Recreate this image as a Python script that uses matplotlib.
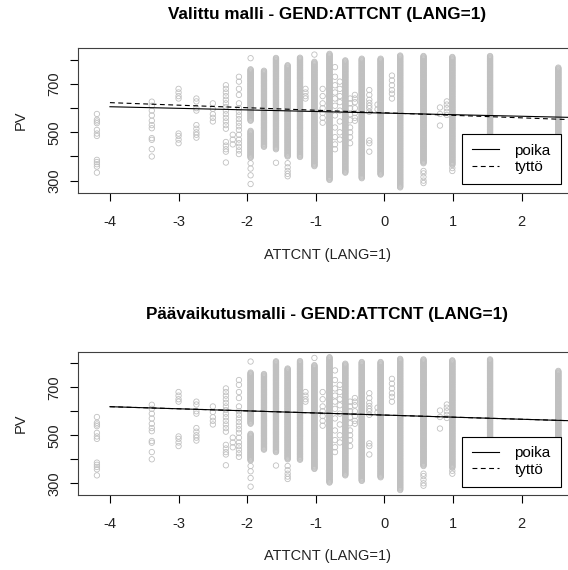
import numpy as np
import matplotlib
matplotlib.use("Agg")
import matplotlib.pyplot as plt

plt.rcParams['font.family'] = ['Liberation Sans', 'DejaVu Sans']
plt.rcParams['lines.scale_dashes'] = False

# === DATA ===
# ATTCNT levels that have a dense band of PV scores (lo, hi)
dense_x = [-1.95, -1.95, -1.755, -1.58, -1.41, -1.23, -1.02, -0.80, -0.57,
           -0.33, -0.055, 0.23, 0.57, 0.99, 1.54, 2.535]
dense_lo = [548, 395, 440, 430, 400, 398, 360, 303, 333,
            310, 325, 272, 372, 365, 318, 312]
dense_hi = [763, 507, 755, 808, 778, 810, 792, 826, 800,
            805, 805, 818, 818, 812, 818, 770]

# single students at the sparse ATTCNT levels
sparse_x = [-4.19, -3.39, -3.0, -2.74, -2.50, -2.31, -2.21, -2.12,
            -1.95, -1.58, -1.41, -1.15, -1.02, -0.90, -0.72, -0.65,
            -0.50, -0.43, -0.22, -0.10, 0.11, 0.57, 0.81, 0.91, 0.99]
sparse_pv = [
    [576, 552, 545, 538, 510, 495, 485, 386, 377, 368, 358, 333],
    [627, 610, 590, 570, 548, 530, 517, 476, 469, 430, 400],
    [680, 665, 650, 640, 495, 485, 470, 455],
    [640, 628, 600, 590, 530, 515, 500, 490, 478],
    [620, 597, 575, 560, 545],
    [695, 680, 665, 650, 635, 620, 605, 590, 575, 560, 545, 530, 515,
     460, 445, 430, 420, 375],
    [490, 470, 450],
    [730, 710, 680, 655, 620, 600, 585, 570, 555, 540, 525, 510, 490,
     470, 455, 440, 425, 410],
    [807, 372, 350, 322, 286],
    [374],
    [372, 355, 340, 328, 318],
    [680, 665, 650, 640],
    [822],
    [680, 650, 620, 600, 580, 560, 540],
    [770, 730, 695, 665, 640, 610, 570, 520, 480, 450, 430],
    [710, 680, 650, 625, 590, 545, 500, 470],
    [640, 620, 600, 575, 550, 520, 500, 480, 455],
    [655, 640, 625, 600, 580, 560, 548],
    [675, 655, 635, 622, 610, 600, 585, 466, 455, 420],
    [615, 595],
    [735, 715, 695, 675, 660, 640],
    [340, 330, 315, 300, 290],
    [603, 576, 528],
    [628, 615, 600, 585, 572],
    [352, 340],
]

# fitted PV lines by gender
line_x = [-4, 3]
valittu_poika = [606, 560]
valittu_tytto = [623, 549.5]
paavaikutus_poika = [619, 558]
paavaikutus_tytto = [619, 558]

titles = ["Valittu malli - GEND:ATTCNT (LANG=1)",
          "Päävaikutusmalli - GEND:ATTCNT (LANG=1)"]
xlab = "ATTCNT (LANG=1)"
ylab = "PV"
legend_labels = ["poika", "tyttö"]

# expand the dense bands into individual points
pts_x, pts_y = [], []
for x, lo, hi in zip(dense_x, dense_lo, dense_hi):
    ys = np.arange(lo, hi + 0.1, 3.0)
    pts_x.extend([x] * len(ys))
    pts_y.extend(ys)
for x, vals in zip(sparse_x, sparse_pv):
    pts_x.extend([x] * len(vals))
    pts_y.extend(vals)

W, H = 568, 570
fig = plt.figure(figsize=(W / 100, H / 100), dpi=100)

# panel boxes in pixels: (left, top, right, bottom)
panels = [(77.7, 48.3, 576.5, 192.7), (77.7, 351.7, 576.5, 495.3)]
legend_bottom = [184, 486.7]
title_y = [15, 315]
xlab_y = [255, 556]
lines = [(valittu_poika, valittu_tytto), (paavaikutus_poika, paavaikutus_tytto)]

for i, (l, t, r, b) in enumerate(panels):
    ax = fig.add_axes([l / W, 1 - b / H, (r - l) / W, (b - t) / H])
    ax.scatter(pts_x, pts_y, s=15, facecolors='none', edgecolors='#c0c0c0',
               linewidths=0.6, zorder=1)
    poika, tytto = lines[i]
    ax.plot(line_x, poika, color='black', lw=0.8, ls='-', label=legend_labels[0], zorder=3)
    ax.plot(line_x, tytto, color='black', lw=0.8, ls=(0, (3.5, 2.5)),
            label=legend_labels[1], zorder=3)
    ax.set_xlim(-4.47, 2.8)
    ax.set_ylim(250, 848)
    ax.set_xticks([-4, -3, -2, -1, 0, 1, 2])
    ax.set_xticklabels(['-4', '-3', '-2', '-1', '0', '1', '2'])
    ax.set_yticks([300, 400, 500, 600, 700, 800])
    ax.set_yticklabels(['300', '', '500', '', '700', ''], rotation=90, va='center')
    ax.tick_params(axis='both', length=5.8, width=0.8, color='black', labelsize=10.5,
                   labelcolor='#222222')
    ax.tick_params(axis='x', pad=10)
    ax.tick_params(axis='y', pad=6)
    for sp in ax.spines.values():
        sp.set_color('#404040')
        sp.set_linewidth(0.8)

    cx = (l + r) / 2 / W
    fig.text(cx, 1 - title_y[i] / H, titles[i], ha='center', va='center',
             fontsize=12.3, fontweight='bold')
    fig.text(cx, 1 - xlab_y[i] / H, xlab, ha='center', va='center', fontsize=10.5,
             color='#222222')
    fig.text(21 / W, 1 - (t + b) / 2 / H, ylab, ha='center', va='center', fontsize=10.5,
             rotation=90, color='#222222')

    leg = ax.legend(loc='lower right', bbox_to_anchor=(560.7 / W, 1 - legend_bottom[i] / H),
                    bbox_transform=fig.transFigure, borderaxespad=0, fontsize=11,
                    handlelength=1.8, handletextpad=1.0, borderpad=0.65,
                    labelspacing=0.15, fancybox=False, framealpha=1)
    leg.get_frame().set_edgecolor('black')
    leg.get_frame().set_linewidth(0.8)

fig.savefig("out.png", dpi=100)
